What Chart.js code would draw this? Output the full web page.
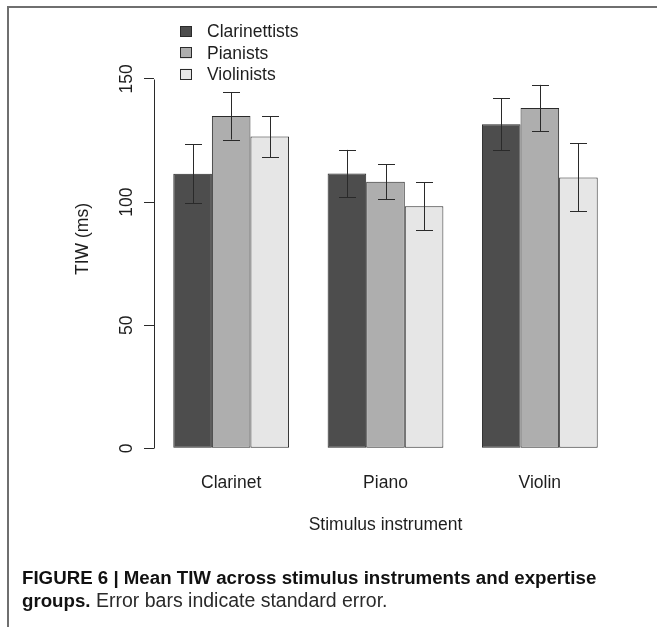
<!DOCTYPE html>
<html>
<head>
<meta charset="utf-8">
<script src="https://cdn.jsdelivr.net/npm/chart.js@4/dist/chart.umd.min.js"></script>
<style>
  html, body { margin: 0; padding: 0; background: #fff; overflow: hidden; }
  #wrap { position: relative; width: 657px; height: 627px; overflow: hidden; }
  #chart { position: absolute; left: 0; top: 0; }
  #frame { position: absolute; left: 7px; top: 6px; width: 660px; height: 630px;
           border-left: 2px solid #6f6f6f; border-top: 2px solid #6f6f6f; box-sizing: border-box; }
  #caption { position: absolute; left: 22px; top: 566px; width: 630px; white-space: nowrap;
             font-family: "Liberation Sans", Arial, sans-serif; font-size: 19.5px;
             line-height: 23px; color: #2a2a2a; }
  #caption b { font-weight: bold; font-size: 18.7px; color: #111; }
</style>
</head>
<body>
<div id="wrap">
  <canvas id="chart" width="657" height="627"></canvas>
  <div id="frame"></div>
  <div id="caption"><b>FIGURE 6 | Mean TIW across stimulus instruments and expertise</b><br><b>groups.</b> Error bars indicate standard error.</div>
</div>
<script>
// Stimulus instruments (x categories)
const instruments = ['Clarinet', 'Piano', 'Violin'];

// Expertise groups
const groupNames = ['Clarinettists', 'Pianists', 'Violinists'];

// Mean TIW (ms) per stimulus instrument, one array per group
const clarinettistsMean = [111.5, 111.6, 131.6];
const pianistsMean      = [135.0, 108.3, 138.2];
const violinistsMean    = [126.6, 98.3, 110.0];

// Standard error (ms)
const clarinettistsSE = [12.0, 9.6, 10.5];
const pianistsSE      = [9.6, 7.1, 9.4];
const violinistsSE    = [8.3, 9.7, 13.8];

// Y axis tick labels
const yTicks = [0, 50, 100, 150];

const fillColors = ['#4D4D4D', '#AEAEAE', '#E6E6E6'];
const means = [clarinettistsMean, pianistsMean, violinistsMean];
const errors = [clarinettistsSE, pianistsSE, violinistsSE];

const FONT = '"Liberation Sans", Arial, Helvetica, sans-serif';
const TEXT = '#1e1e1e';
const INK = '#2a2a2a';

// Mean ± SE whiskers drawn over the bars
const errorBars = {
  id: 'errorBars',
  afterDatasetsDraw(chart) {
    const ctx = chart.ctx;
    const y = chart.scales.y;
    ctx.save();
    ctx.strokeStyle = INK;
    ctx.lineWidth = 1;
    chart.data.datasets.forEach((ds, i) => {
      const meta = chart.getDatasetMeta(i);
      meta.data.forEach((bar, j) => {
        const x = Math.round(bar.x) + 0.5;
        const top = y.getPixelForValue(ds.data[j] + ds.se[j]);
        const bot = y.getPixelForValue(ds.data[j] - ds.se[j]);
        const half = 8.5;
        ctx.beginPath();
        ctx.moveTo(x, top); ctx.lineTo(x, bot);
        ctx.moveTo(x - half, Math.round(top) + 0.5); ctx.lineTo(x + half, Math.round(top) + 0.5);
        ctx.moveTo(x - half, Math.round(bot) + 0.5); ctx.lineTo(x + half, Math.round(bot) + 0.5);
        ctx.stroke();
      });
    });
    ctx.restore();
  }
};

// Y axis line spanning only the labelled tick range
const axisLine = {
  id: 'axisLine',
  afterDraw(chart) {
    const y = chart.scales.y;
    const ctx = chart.ctx;
    const x = Math.round(chart.chartArea.left) + 0.5;
    ctx.save();
    ctx.strokeStyle = INK;
    ctx.lineWidth = 1;
    ctx.beginPath();
    ctx.moveTo(x, Math.round(y.getPixelForValue(yTicks[0])) + 0.5);
    ctx.lineTo(x, Math.round(y.getPixelForValue(yTicks[yTicks.length - 1])) + 0.5);
    ctx.stroke();
    ctx.restore();
  }
};

// Legend in the top-left corner of the plot region
const cornerLegend = {
  id: 'cornerLegend',
  afterDraw(chart, args, opts) {
    const ctx = chart.ctx;
    const area = chart.chartArea;
    ctx.save();
    ctx.font = opts.fontSize + 'px ' + FONT;
    ctx.textBaseline = 'middle';
    ctx.textAlign = 'left';
    chart.data.datasets.forEach((ds, i) => {
      const cy = area.top + opts.firstRow + i * opts.rowGap;
      const bx = area.left + opts.boxLeft;
      ctx.fillStyle = ds.backgroundColor;
      ctx.fillRect(bx, cy - opts.boxH / 2, opts.boxW, opts.boxH);
      ctx.strokeStyle = INK;
      ctx.lineWidth = 1;
      ctx.strokeRect(Math.round(bx) + 0.5, Math.round(cy - opts.boxH / 2) + 0.5, opts.boxW - 1, opts.boxH - 1);
      ctx.fillStyle = TEXT;
      ctx.fillText(ds.label, bx + opts.boxW + opts.gap, cy + 1);
    });
    ctx.restore();
  }
};

new Chart(document.getElementById('chart'), {
  type: 'bar',
  data: {
    labels: instruments,
    datasets: groupNames.map((name, i) => ({
      label: name,
      data: means[i],
      se: errors[i],
      backgroundColor: fillColors[i],
      borderColor: INK,
      borderWidth: 1,
      borderSkipped: false,
      categoryPercentage: 0.75,
      barPercentage: 1.0
    }))
  },
  options: {
    responsive: false,
    animation: false,
    devicePixelRatio: 1,
    layout: { padding: { left: 72.5, right: 40, top: 13, bottom: 91.5 } },
    plugins: {
      legend: { display: false },
      tooltip: { enabled: false },
      cornerLegend: { fontSize: 17.5, firstRow: 18.5, rowGap: 21.3, boxLeft: 26, boxW: 12, boxH: 11, gap: 15 }
    },
    scales: {
      x: {
        offset: true,
        grid: { display: false, drawTicks: false },
        border: { display: false },
        ticks: { color: TEXT, font: { family: FONT, size: 17.5 }, padding: 8 },
        title: { display: true, text: 'Stimulus instrument', color: TEXT,
                 font: { family: FONT, size: 17.5 }, padding: { top: 0, bottom: 0 } },
        afterFit(scale) { scale.height = 70.5; }
      },
      y: {
        min: -6.8,
        max: 176.8,
        afterBuildTicks(scale) { scale.ticks = yTicks.map(v => ({ value: v })); },
        grid: { display: true, drawOnChartArea: false, drawTicks: true, tickLength: 10, color: INK, lineWidth: 1 },
        border: { display: false },
        ticks: { color: TEXT, font: { family: FONT, size: 17.5 }, padding: 2,
                 minRotation: 90, maxRotation: 90, crossAlign: 'center',
                 callback: v => String(v) },
        title: { display: true, text: 'TIW (ms)', color: TEXT,
                 font: { family: FONT, size: 17.5 }, padding: { top: 0, bottom: 0 } },
        afterFit(scale) { scale.width = 81.5; }
      }
    }
  },
  plugins: [errorBars, axisLine, cornerLegend]
});
</script>
</body>
</html>
